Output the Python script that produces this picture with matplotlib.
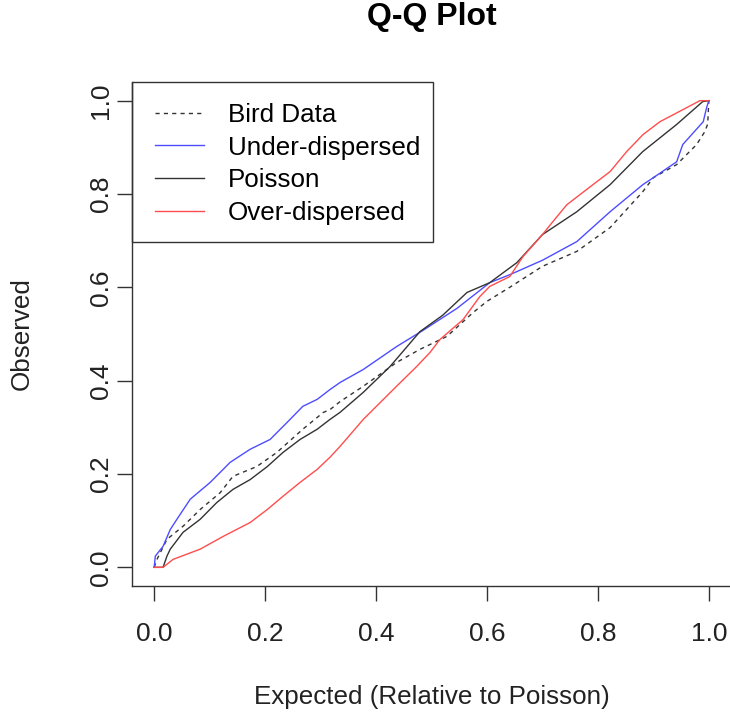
import matplotlib.pyplot as plt
from matplotlib.patches import Rectangle

plt.rcParams['font.family'] = ['Liberation Sans', 'DejaVu Sans']

# values
bird_x = [0, 0.005, 0.023, 0.052, 0.083, 0.119, 0.142, 0.185, 0.221, 0.268, 0.305, 0.317, 0.335,
          0.377, 0.437, 0.479, 0.528, 0.575, 0.600, 0.641, 0.70, 0.762, 0.822, 0.881, 0.90,
          0.942, 0.978, 0.993, 0.998, 1.0]
bird_y = [0, 0.017, 0.060, 0.088, 0.124, 0.160, 0.195, 0.216, 0.246, 0.296, 0.332, 0.338, 0.355,
          0.388, 0.439, 0.467, 0.495, 0.546, 0.570, 0.600, 0.645, 0.677, 0.728, 0.805, 0.835,
          0.863, 0.906, 0.934, 0.950, 1.0]

under_x = [0, 0.002, 0.016, 0.029, 0.041, 0.065, 0.101, 0.137, 0.173, 0.209, 0.245, 0.268, 0.294,
           0.317, 0.335, 0.377, 0.437, 0.485, 0.546, 0.605, 0.641, 0.70, 0.762, 0.822, 0.881,
           0.90, 0.942, 0.953, 0.99, 0.996, 1.0]
under_y = [0, 0.024, 0.045, 0.081, 0.103, 0.146, 0.182, 0.225, 0.253, 0.274, 0.317, 0.345, 0.360,
           0.381, 0.396, 0.424, 0.473, 0.508, 0.555, 0.610, 0.627, 0.658, 0.698, 0.762, 0.820,
           0.835, 0.869, 0.906, 0.955, 0.985, 1.0]

pois_x = [0, 0.016, 0.023, 0.029, 0.052, 0.083, 0.113, 0.142, 0.173, 0.204, 0.232, 0.263, 0.294,
          0.317, 0.335, 0.377, 0.425, 0.456, 0.479, 0.520, 0.564, 0.605, 0.654, 0.70, 0.762,
          0.822, 0.881, 0.942, 0.989, 1.0]
pois_y = [0, 0, 0.024, 0.039, 0.075, 0.103, 0.139, 0.167, 0.188, 0.216, 0.246, 0.274, 0.296,
          0.317, 0.332, 0.375, 0.430, 0.473, 0.505, 0.540, 0.589, 0.610, 0.653, 0.713, 0.762,
          0.820, 0.891, 0.949, 0.998, 1.0]

over_x = [0, 0.016, 0.034, 0.083, 0.124, 0.173, 0.204, 0.232, 0.263, 0.294, 0.317, 0.335, 0.377,
          0.437, 0.473, 0.497, 0.515, 0.557, 0.587, 0.605, 0.641, 0.665, 0.70, 0.719, 0.744,
          0.791, 0.822, 0.852, 0.881, 0.912, 0.96, 0.984, 1.0]
over_y = [0, 0, 0.017, 0.039, 0.066, 0.096, 0.124, 0.152, 0.182, 0.210, 0.236, 0.259, 0.317,
          0.388, 0.430, 0.460, 0.488, 0.531, 0.580, 0.602, 0.623, 0.666, 0.713, 0.741, 0.777,
          0.820, 0.848, 0.891, 0.927, 0.955, 0.985, 1.0, 1.0]

ticks = [0.0, 0.2, 0.4, 0.6, 0.8, 1.0]
tick_labels = ['0.0', '0.2', '0.4', '0.6', '0.8', '1.0']

fig = plt.figure(figsize=(7.3, 7.17), dpi=100)
ax = fig.add_axes([132 / 730, 1 - 586 / 717, 599 / 730, 504 / 717])

ax.plot(bird_x, bird_y, color='#333333', lw=1, dashes=(3, 3), label='Bird Data')
ax.plot(under_x, under_y, color='#4d4dff', lw=1, label='Under-dispersed')
ax.plot(pois_x, pois_y, color='#333333', lw=1, label='Poisson')
ax.plot(over_x, over_y, color='#ff4d4d', lw=1, label='Over-dispersed')

ax.set_xlim(-0.04, 1.04)
ax.set_ylim(-0.04, 1.04)
ax.set_xticks(ticks)
ax.set_xticklabels(tick_labels)
ax.set_yticks(ticks)
ax.set_yticklabels(tick_labels, rotation=90, va='center')
for s in ['top', 'right']:
    ax.spines[s].set_visible(False)
for s in ['left', 'bottom']:
    ax.spines[s].set_color('#333333')
    ax.spines[s].set_linewidth(1)
ax.tick_params(length=11, width=1, color='#333333', labelsize=19, labelcolor='#222222')
ax.tick_params(axis='x', pad=15)
ax.tick_params(axis='y', pad=3)

# legend box flush with the top-left corner of the plot region
ax.add_patch(Rectangle((0, (586 - 242) / 504), (433 - 132) / 599, (242 - 82) / 504,
                       transform=ax.transAxes, fill=False, edgecolor='#333333', lw=1,
                       clip_on=False, zorder=5))
ax.legend(loc='upper left', bbox_to_anchor=((155 - 132) / 599, (586 - 103) / 504),
          frameon=False, borderpad=0, borderaxespad=0, fontsize=18.7,
          handlelength=1.9, handletextpad=0.9, labelspacing=0.33)

fig.text(431.5 / 730, 1 - 17 / 717, 'Q-Q Plot', ha='center', va='center',
         fontsize=23, fontweight='bold')
fig.text(431.5 / 730, 1 - 697 / 717, 'Expected (Relative to Poisson)', ha='center',
         va='center', fontsize=18.7, color='#222222')
fig.text(22 / 730, 1 - 334 / 717, 'Observed', ha='center', va='center', rotation=90,
         fontsize=18.7, color='#222222')

fig.savefig('out.png', dpi=100)
